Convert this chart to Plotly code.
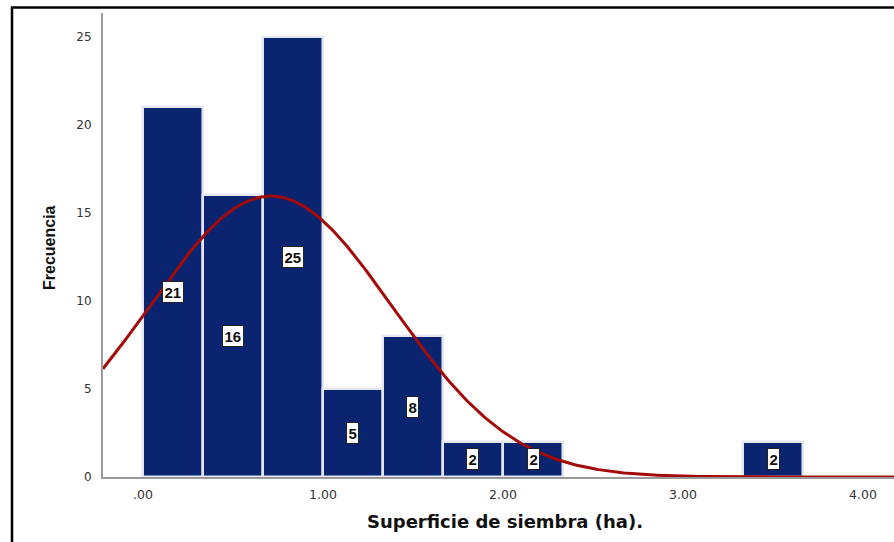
import numpy as np
import plotly.graph_objects as go

# Histogram of sown area (ha)
bin_centers = [0.1667, 0.5, 0.8333, 1.1667, 1.5, 1.8333, 2.1667, 3.5]
counts = [21, 16, 25, 5, 8, 2, 2, 2]
bin_width = 1 / 3

# Fitted normal curve parameters
curve_mean = 0.71
curve_sd = 0.675

x_tick_vals = [0, 1, 2, 3, 4]
x_tick_text = [".00", "1.00", "2.00", "3.00", "4.00"]
y_tick_vals = [0, 5, 10, 15, 20, 25]

x_range = [-0.222, 4.172]
y_range = [0, 26.36]

W, H = 894, 542
L, R, T, B = 103, 0, 13, 65
plot_w = W - L - R
plot_h = H - T - B

WIDE = "DejaVu Sans, Verdana, sans-serif"
NARROW = "Arial, Liberation Sans, sans-serif"

n_total = sum(counts)
xs = np.linspace(x_range[0], x_range[1], 400)
ys = n_total * bin_width / (curve_sd * np.sqrt(2 * np.pi)) * np.exp(-((xs - curve_mean) ** 2) / (2 * curve_sd ** 2))

fig = go.Figure()
fig.add_trace(go.Bar(
    x=bin_centers, y=counts, width=[bin_width] * len(counts),
    marker=dict(color="#0b2470", line=dict(color="#e4e7ef", width=2.5)),
    hoverinfo="x+y",
))
fig.add_trace(go.Scatter(
    x=xs, y=ys, mode="lines",
    line=dict(color="#a30a0a", width=3), hoverinfo="skip",
))

for cx, c in zip(bin_centers, counts):
    fig.add_annotation(
        x=cx, y=c / 2, text=f"<b>{c}</b>", showarrow=False,
        font=dict(family=NARROW, size=15, color="#111"),
        bgcolor="white", bordercolor="#222", borderwidth=1, borderpad=1.5,
    )

def px(x):
    return (x - L) / plot_w

def py(y):
    return (H - B - y) / plot_h

fig.add_annotation(
    x=px(49), y=py(248), xref="paper", yref="paper", text="<b>Frecuencia</b>",
    xanchor="center", yanchor="middle",
    textangle=-90, showarrow=False,
    font=dict(family=NARROW, size=16, color="#111"),
)
fig.add_annotation(
    x=px(505), y=py(521), xref="paper", yref="paper",
    xanchor="center", yanchor="middle",
    text="<b>Superficie de siembra (ha).</b>", showarrow=False,
    font=dict(family=WIDE, size=18, color="#111"),
)

# Frame lines (left and top)
fig.add_shape(type="line", xref="paper", yref="paper",
              x0=px(12), x1=px(12), y0=py(7), y1=py(545),
              line=dict(color="black", width=2.5))
fig.add_shape(type="line", xref="paper", yref="paper",
              x0=px(11), x1=px(900), y0=py(7.5), y1=py(7.5),
              line=dict(color="black", width=2.5))

fig.update_layout(
    width=W, height=H,
    margin=dict(l=L, r=R, t=T, b=B),
    paper_bgcolor="white", plot_bgcolor="white",
    showlegend=False, bargap=0,
    xaxis=dict(
        range=x_range, tickvals=x_tick_vals, ticktext=x_tick_text,
        showgrid=False, zeroline=False, showline=True, linecolor="#9a9a9a", linewidth=2,
        ticks="", ticklabelstandoff=5,
        tickfont=dict(family=WIDE, size=12.5, color="#333"),
    ),
    yaxis=dict(
        range=y_range, tickvals=y_tick_vals,
        showgrid=False, zeroline=False, showline=True, linecolor="#9a9a9a", linewidth=2,
        ticks="", ticklabelstandoff=7,
        tickfont=dict(family=WIDE, size=12, color="#333"),
    ),
)

fig.write_html("out.html")
